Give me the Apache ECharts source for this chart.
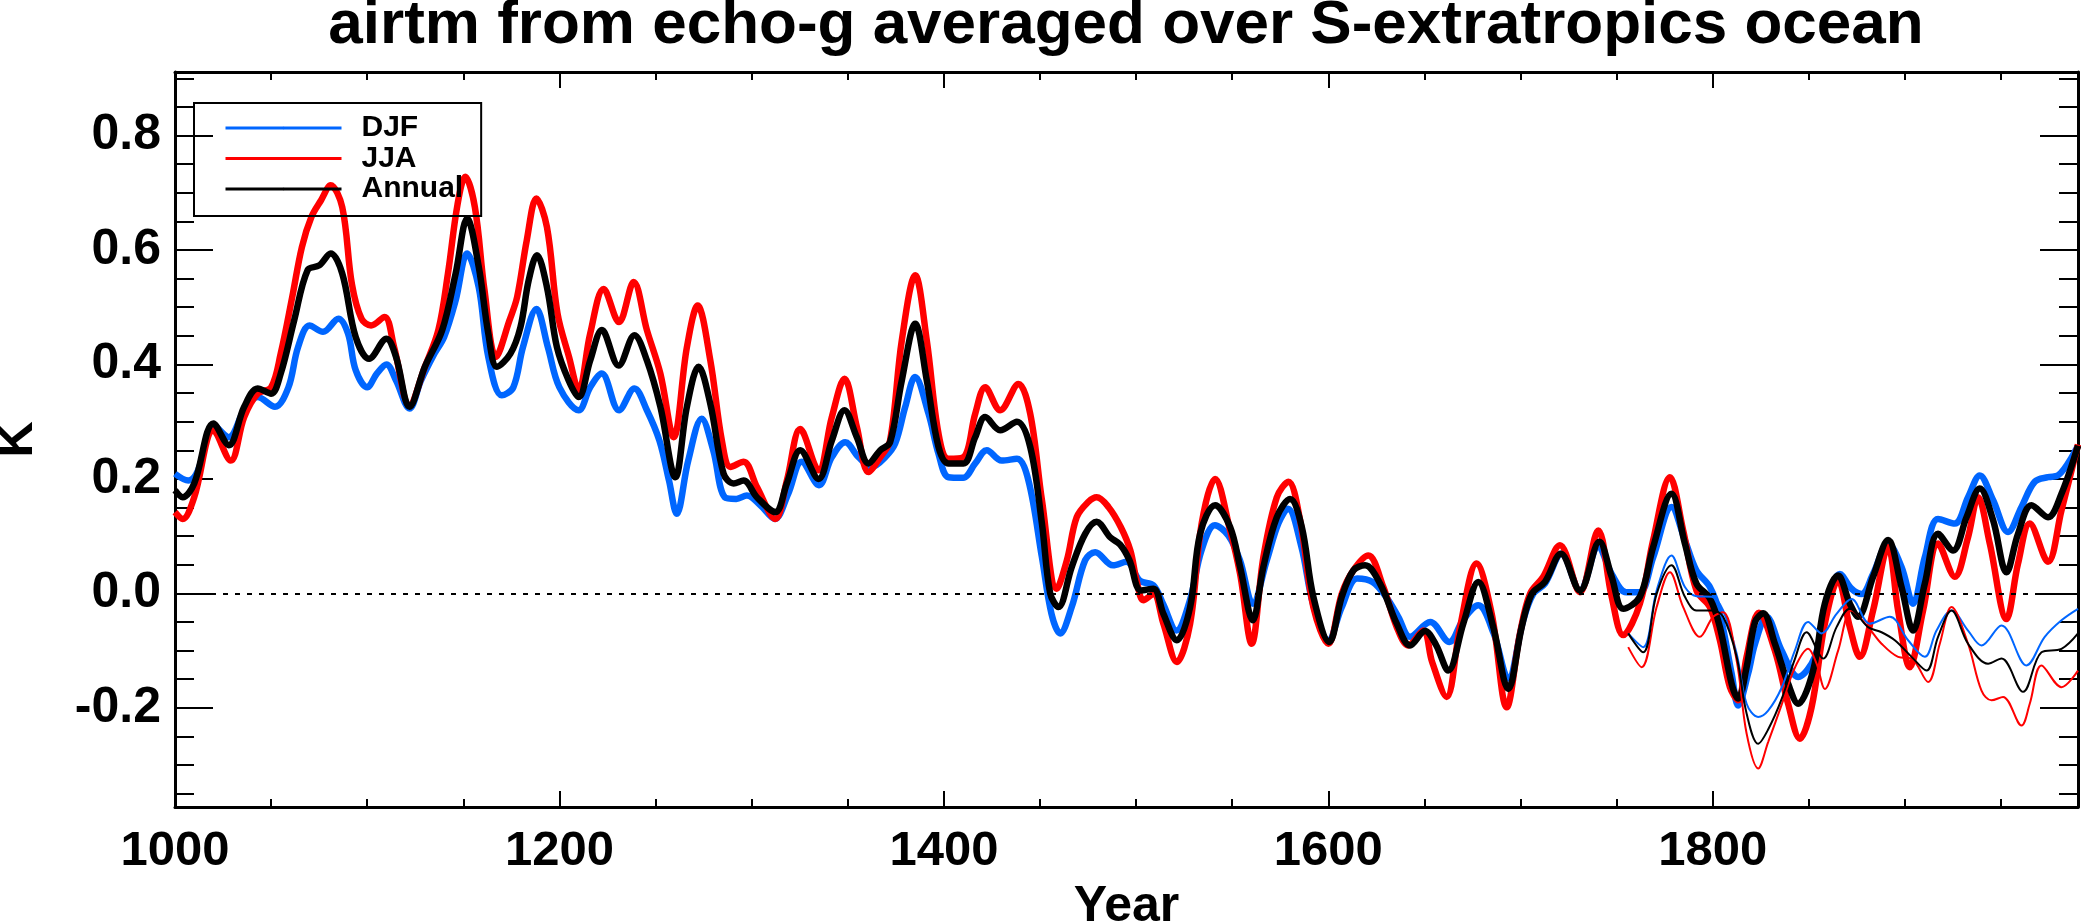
<!DOCTYPE html>
<html>
<head>
<meta charset="utf-8">
<script src="https://cdn.jsdelivr.net/npm/echarts@6/dist/echarts.min.js"></script>
<style>
html,body{margin:0;padding:0;background:#fff;}
#chart{width:2081px;height:924px;}
</style>
</head>
<body>
<div id="chart"></div>
<script>
// ---- data (year, K) ----
const djf = [[1000,0.209],[1007,0.197],[1012,0.215],[1020,0.294],[1028,0.273],[1036,0.32],[1043,0.343],[1052,0.326],[1059,0.36],[1064,0.43],[1070,0.468],[1077,0.457],[1085,0.48],[1090,0.454],[1094,0.39],[1100,0.36],[1105,0.384],[1110,0.40],[1115,0.372],[1122,0.323],[1128,0.372],[1135,0.419],[1140,0.448],[1146,0.512],[1152,0.594],[1158,0.535],[1163,0.413],[1170,0.346],[1176,0.36],[1181,0.43],[1188,0.497],[1194,0.43],[1200,0.36],[1210,0.32],[1216,0.36],[1222,0.384],[1231,0.32],[1239,0.358],[1245.5,0.32],[1252,0.267],[1257,0.197],[1261,0.139],[1267,0.232],[1274,0.305],[1280,0.25],[1286,0.168],[1292,0.165],[1297.5,0.171],[1304.5,0.154],[1312,0.13],[1319,0.174],[1326,0.23],[1335,0.189],[1341.7,0.238],[1348.7,0.264],[1355.6,0.238],[1362.5,0.221],[1369.5,0.238],[1374.7,0.262],[1379.9,0.326],[1385,0.378],[1392,0.314],[1397.2,0.244],[1402.4,0.203],[1410,0.202],[1416.3,0.227],[1422.3,0.25],[1430,0.232],[1438,0.235],[1444,0.197],[1451,0.063],[1456,-0.036],[1460.5,-0.07],[1466.5,-0.024],[1473.5,0.058],[1478.7,0.072],[1488,0.049],[1495,0.055],[1502,0.022],[1509,0.014],[1514,-0.018],[1521,-0.065],[1528,-0.012],[1534,0.075],[1541,0.119],[1548,0.101],[1554,0.058],[1560.7,-0.018],[1568,0.058],[1574,0.122],[1579,0.148],[1586,0.081],[1592,-0.018],[1600,-0.082],[1607,-0.024],[1615,0.026],[1623,0.02],[1630,-0.006],[1636.4,-0.041],[1642.5,-0.076],[1653,-0.05],[1663,-0.085],[1670,-0.047],[1678,-0.021],[1686,-0.07],[1693.6,-0.149],[1701.4,-0.047],[1706.6,-0.001],[1712.7,0.017],[1721.3,0.069],[1730.9,0.005],[1740.4,0.081],[1747.4,0.034],[1755,0.002],[1762,0.002],[1769,0.063],[1778.5,0.151],[1785.5,0.093],[1791.5,0.04],[1798.5,0.011],[1803.7,-0.036],[1809.8,-0.14],[1813.2,-0.196],[1818.4,-0.14],[1822,-0.088],[1828,-0.041],[1835.8,-0.1],[1844.4,-0.146],[1853.1,-0.111],[1859.2,-0.018],[1866.1,0.034],[1872.2,0.008],[1877.4,-0.001],[1883.4,0.034],[1891.2,0.087],[1898.2,0.046],[1904.2,-0.018],[1910.3,0.063],[1917.2,0.13],[1925.9,0.122],[1932.8,0.168],[1938.9,0.206],[1945.8,0.163],[1953.6,0.107],[1960.6,0.151],[1967.5,0.195],[1974.4,0.203],[1979.6,0.206],[1990,0.258]];

const jja = [[1000,0.142],[1004,0.13],[1010,0.168],[1020,0.285],[1029,0.232],[1036,0.308],[1043,0.349],[1050,0.36],[1055,0.419],[1061,0.518],[1066,0.605],[1071,0.658],[1076,0.687],[1081,0.713],[1087,0.675],[1092,0.541],[1097,0.48],[1102,0.468],[1109,0.483],[1114,0.43],[1122,0.329],[1130,0.396],[1137,0.46],[1142,0.559],[1147,0.68],[1151,0.728],[1156,0.675],[1161,0.53],[1167,0.413],[1174,0.477],[1178,0.518],[1183,0.617],[1188,0.69],[1193.5,0.64],[1199,0.489],[1205,0.413],[1210,0.355],[1216,0.454],[1223,0.532],[1231,0.474],[1238.6,0.544],[1245.5,0.46],[1252.5,0.384],[1259.4,0.273],[1266.3,0.43],[1271.9,0.503],[1278.5,0.407],[1284.5,0.267],[1289,0.221],[1295.8,0.23],[1302.7,0.186],[1312.3,0.13],[1318.3,0.197],[1325.3,0.287],[1334.8,0.215],[1341.7,0.308],[1348.3,0.375],[1354.7,0.291],[1360.8,0.212],[1366.9,0.238],[1372,0.267],[1378.1,0.442],[1385.1,0.556],[1391.1,0.442],[1397.2,0.279],[1402.4,0.235],[1410.2,0.238],[1416.3,0.314],[1421.5,0.36],[1429.3,0.32],[1438.8,0.366],[1444.9,0.314],[1451,0.163],[1458.7,0.008],[1464,0.058],[1469.1,0.133],[1475.2,0.16],[1479.5,0.168],[1485.6,0.151],[1492,0.116],[1497,0.075],[1500.3,0.022],[1503.8,-0.012],[1509,-0.001],[1514.2,-0.053],[1521.2,-0.12],[1528.1,-0.053],[1534.1,0.122],[1541.1,0.2],[1548.9,0.11],[1554.1,0.034],[1560.1,-0.088],[1566.2,0.063],[1573.2,0.168],[1579.2,0.195],[1585.3,0.128],[1592.2,-0.024],[1600,-0.088],[1607,-0.001],[1613,0.04],[1620.8,0.066],[1628.6,0.011],[1635.6,-0.059],[1641.6,-0.091],[1649.4,-0.065],[1654,-0.12],[1661.5,-0.181],[1668.5,-0.059],[1677.1,0.052],[1685,-0.036],[1692.8,-0.199],[1699.7,-0.07],[1704.9,-0.001],[1711.8,0.029],[1720.5,0.084],[1730.9,0.002],[1740.4,0.11],[1747.4,-0.006],[1753.4,-0.073],[1762.1,-0.018],[1769,0.093],[1777.7,0.203],[1784.6,0.11],[1791.5,0.005],[1798.5,-0.024],[1803.7,-0.082],[1808.9,-0.164],[1813.2,-0.187],[1817.6,-0.111],[1824,-0.034],[1832.3,-0.1],[1839.2,-0.193],[1845.3,-0.254],[1851.4,-0.199],[1858.3,-0.053],[1865.2,0.023],[1871.3,-0.059],[1876.5,-0.111],[1883.4,-0.03],[1891.2,0.081],[1896.4,-0.03],[1902.5,-0.129],[1909.4,-0.03],[1917.2,0.087],[1925.9,0.029],[1932.8,0.098],[1938,0.168],[1944.1,0.087],[1952.8,-0.045],[1958.8,0.052],[1964.9,0.122],[1974.4,0.055],[1981.4,0.145],[1990,0.26]];

const annual = [[1000,0.18],[1004,0.168],[1010,0.192],[1020,0.297],[1028,0.259],[1036,0.326],[1043,0.358],[1050,0.349],[1055,0.384],[1062,0.477],[1069,0.565],[1075,0.573],[1081,0.594],[1087,0.559],[1094,0.448],[1101,0.41],[1110,0.445],[1115,0.413],[1122,0.326],[1130,0.396],[1139,0.46],[1146,0.559],[1152,0.655],[1158,0.571],[1163,0.454],[1167.5,0.396],[1174.5,0.419],[1179.7,0.465],[1184,0.547],[1188.3,0.591],[1193.5,0.535],[1198.7,0.43],[1204.8,0.372],[1210,0.343],[1216,0.407],[1222.1,0.46],[1230.8,0.398],[1239,0.451],[1245.5,0.407],[1252.5,0.326],[1260.3,0.203],[1266.3,0.326],[1272.4,0.396],[1278.5,0.331],[1285.4,0.209],[1290.6,0.192],[1295.8,0.197],[1302.7,0.168],[1312.3,0.142],[1318.3,0.192],[1325.3,0.25],[1334.8,0.2],[1341.7,0.267],[1348.3,0.32],[1354.7,0.273],[1360.8,0.227],[1366.9,0.25],[1372,0.264],[1378.1,0.372],[1385.1,0.471],[1391.1,0.372],[1397.2,0.256],[1402.4,0.227],[1410.2,0.227],[1416.3,0.273],[1421.5,0.308],[1429.3,0.285],[1438,0.3],[1444.9,0.256],[1451,0.122],[1455.3,0.0],[1459.6,-0.024],[1466.5,0.046],[1473.5,0.104],[1479.5,0.125],[1486.5,0.098],[1491.7,0.085],[1496.5,0.058],[1502.5,0.005],[1509,0.008],[1514.2,-0.036],[1521.2,-0.082],[1528.1,-0.024],[1533.3,0.104],[1541.1,0.154],[1548.9,0.116],[1554.1,0.046],[1560.7,-0.047],[1566.2,0.046],[1573.2,0.133],[1580.1,0.165],[1586.2,0.116],[1592.2,-0.006],[1600.5,-0.085],[1607,-0.006],[1613,0.04],[1619.1,0.049],[1626.9,0.017],[1635.6,-0.053],[1642.5,-0.091],[1650.3,-0.066],[1656,-0.09],[1662.4,-0.135],[1670.2,-0.053],[1678,0.02],[1685.8,-0.059],[1693.6,-0.167],[1700.6,-0.059],[1705.8,-0.001],[1712.7,0.02],[1721,0.069],[1730.9,0.005],[1741,0.09],[1747.4,0.029],[1753.4,-0.027],[1762.1,-0.006],[1769,0.081],[1778.5,0.174],[1785.5,0.087],[1791.5,0.017],[1798.5,-0.009],[1803.7,-0.059],[1809.8,-0.158],[1813.2,-0.184],[1817.6,-0.129],[1822,-0.05],[1826.2,-0.035],[1832.3,-0.088],[1839.2,-0.158],[1844.4,-0.193],[1852.2,-0.135],[1858.3,-0.018],[1865.2,0.031],[1871.3,-0.018],[1875.6,-0.041],[1883.4,0.029],[1891.2,0.093],[1898.2,0.011],[1904.2,-0.065],[1910.3,0.017],[1917.2,0.104],[1925,0.075],[1932,0.133],[1938.9,0.183],[1945.8,0.128],[1952.8,0.037],[1958.8,0.104],[1965.8,0.154],[1974.4,0.133],[1981.4,0.174],[1990,0.258]];

// second (thin) set of curves, 1756 onwards
const djfThin = [[1756,-0.07],[1763.8,-0.094],[1770.8,0.005],[1778.5,0.066],[1785.5,0.011],[1791.5,-0.005],[1799.4,-0.006],[1805.4,-0.03],[1812.4,-0.105],[1817.6,-0.193],[1823.6,-0.216],[1828.8,-0.205],[1835.8,-0.165],[1842.7,-0.1],[1849.6,-0.05],[1856.6,-0.07],[1864.4,-0.036],[1872.2,-0.01],[1881.7,-0.053],[1892.1,-0.041],[1901.6,-0.082],[1910.3,-0.111],[1916.4,-0.065],[1924.2,-0.03],[1932.8,-0.065],[1939.8,-0.091],[1950.2,-0.056],[1963.2,-0.126],[1972.7,-0.076],[1981.4,-0.047],[1990,-0.027]];

const jjaThin = [[1756,-0.094],[1763,-0.129],[1770.8,-0.024],[1777.7,0.037],[1784.6,-0.024],[1793.3,-0.076],[1800.2,-0.041],[1805.4,-0.033],[1812.4,-0.117],[1817.6,-0.245],[1823.6,-0.306],[1828.8,-0.26],[1835.8,-0.195],[1842.7,-0.13],[1849.6,-0.097],[1854,-0.123],[1858.3,-0.167],[1865.2,-0.1],[1872.2,-0.03],[1880.8,-0.059],[1887.8,-0.088],[1896.4,-0.111],[1903.4,-0.114],[1912,-0.155],[1918.1,-0.088],[1924.2,-0.024],[1932.8,-0.088],[1939.8,-0.17],[1945,-0.187],[1951,-0.181],[1960.6,-0.231],[1964.9,-0.193],[1971,-0.126],[1981.4,-0.164],[1990,-0.135]];

const annualThin = [[1756,-0.07],[1763.8,-0.103],[1770.8,-0.001],[1778.5,0.049],[1785.5,-0.006],[1791.5,-0.03],[1799.4,-0.03],[1805.4,-0.041],[1812.4,-0.111],[1817.6,-0.21],[1823.6,-0.263],[1828.8,-0.238],[1835.8,-0.185],[1842.7,-0.115],[1848.8,-0.068],[1857.4,-0.114],[1864.4,-0.059],[1871.3,-0.027],[1880.8,-0.059],[1887.8,-0.068],[1894.7,-0.082],[1903.4,-0.111],[1911.2,-0.135],[1917.2,-0.076],[1924.2,-0.03],[1932.8,-0.088],[1943.2,-0.123],[1950.2,-0.114],[1961.4,-0.172],[1971,-0.103],[1981.4,-0.097],[1990,-0.07]];

// ---- axes / ticks ----
const xMin = 1000, xMax = 1990;
const yMin = -0.3734, yMax = 0.9111;
const xMajorTicks = [1000, 1200, 1400, 1600, 1800];
const xMinorTicks = [1050, 1100, 1150, 1250, 1300, 1350, 1450, 1500, 1550, 1650, 1700, 1750, 1850, 1900, 1950];
const yMajorTicks = [-0.2, 0.0, 0.2, 0.4, 0.6, 0.8];
const yMinorTicks = [-0.35, -0.3, -0.25, -0.15, -0.1, -0.05, 0.05, 0.1, 0.15, 0.25, 0.3, 0.35, 0.45, 0.5, 0.55, 0.65, 0.7, 0.75, 0.85, 0.9];
const seriesNames = ['DJF', 'JJA', 'Annual'];
const titleText = 'airtm from echo-g averaged over S-extratropics ocean';

const FONT = 'Liberation Sans, Arial, Helvetica, sans-serif';
const BLUE = '#0066ff', RED = '#ff0000', BLACK = '#000000';

function xAxisDef(pos, ticks, len, showLine, showLabels, extra) {
  return Object.assign({
    type: 'value', position: pos, min: xMin, max: xMax,
    axisLine: { show: showLine, onZero: false, lineStyle: { color: '#000', width: 3 } },
    axisTick: { show: true, inside: true, length: len, customValues: ticks, lineStyle: { color: '#000', width: 2 } },
    axisLabel: showLabels ? { show: true, customValues: ticks, margin: 20, color: '#000', fontFamily: FONT, fontWeight: 'bold', fontSize: 49,
      formatter: v => String(Math.round(v)) } : { show: false },
    splitLine: { show: false }
  }, extra || {});
}
function yAxisDef(pos, ticks, len, showLine, showLabels, extra) {
  return Object.assign({
    type: 'value', position: pos, min: yMin, max: yMax,
    axisLine: { show: showLine, onZero: false, lineStyle: { color: '#000', width: 3 } },
    axisTick: { show: true, inside: true, length: len, customValues: ticks, lineStyle: { color: '#000', width: 2 } },
    axisLabel: showLabels ? { show: true, customValues: ticks, margin: 14, color: '#000', fontFamily: FONT, fontWeight: 'bold', fontSize: 50,
      formatter: v => v.toFixed(1) } : { show: false },
    splitLine: { show: false }
  }, extra || {});
}

function thick(name, data, color) {
  return { name, type: 'line', data, xAxisIndex: 0, yAxisIndex: 0, symbol: 'none', smooth: 0.35,
    lineStyle: { color, width: 6.5 }, itemStyle: { color }, z: 3 };
}
function thin(name, data, color) {
  return { name, type: 'line', data, xAxisIndex: 0, yAxisIndex: 0, symbol: 'none', smooth: 0.35,
    lineStyle: { color, width: 2 }, itemStyle: { color }, z: 4 };
}

const chart = echarts.init(document.getElementById('chart'), null, { renderer: 'canvas' });
const s0 = thick(seriesNames[0], djf, BLUE);
s0.markLine = { silent: true, symbol: ['none', 'none'], label: { show: false }, animation: false,
  lineStyle: { color: '#000', width: 2, type: [5, 7] }, data: [{ yAxis: 0 }] };

chart.setOption({
  animation: false,
  backgroundColor: '#fff',
  title: { text: titleText, left: 1126, top: -5, padding: 0, textAlign: 'center',
    textStyle: { fontFamily: FONT, fontWeight: 'bold', fontSize: 62, color: '#000' } },
  legend: {
    data: seriesNames, orient: 'vertical', left: 194, top: 103,
    padding: [10, 18, 12, 30], itemWidth: 116, itemHeight: 3, itemGap: 0.5,
    borderColor: '#000', borderWidth: 2,
    lineStyle: { width: 3 },
    textStyle: { fontFamily: FONT, fontWeight: 'bold', fontSize: 30, lineHeight: 30, color: '#000', padding: [0, 0, 0, 15] },
    selectedMode: false
  },
  grid: { left: 175, right: 3, top: 72, bottom: 117, containLabel: false, outerBoundsMode: 'none' },
  xAxis: [
    xAxisDef('bottom', xMajorTicks, 16, true, true, { name: 'Year', nameLocation: 'middle', nameGap: 75,
      nameTextStyle: { fontFamily: FONT, fontWeight: 'bold', fontSize: 50, color: '#000' } }),
    xAxisDef('bottom', xMinorTicks, 8, false, false),
    xAxisDef('top', xMajorTicks, 16, true, false),
    xAxisDef('top', xMinorTicks, 8, false, false)
  ],
  yAxis: [
    yAxisDef('left', yMajorTicks, 38, true, true, { name: 'K', nameLocation: 'middle', nameGap: 132, nameRotate: 90,
      nameTextStyle: { fontFamily: FONT, fontWeight: 'bold', fontSize: 50, color: '#000' } }),
    yAxisDef('left', yMinorTicks, 19, false, false),
    yAxisDef('right', yMajorTicks, 38, true, false),
    yAxisDef('right', yMinorTicks, 19, false, false)
  ],
  series: [
    s0,
    thick(seriesNames[1], jja, RED),
    thick(seriesNames[2], annual, BLACK),
    thin('DJF (2)', djfThin, BLUE),
    thin('JJA (2)', jjaThin, RED),
    thin('Annual (2)', annualThin, BLACK)
  ]
});
</script>
</body>
</html>
